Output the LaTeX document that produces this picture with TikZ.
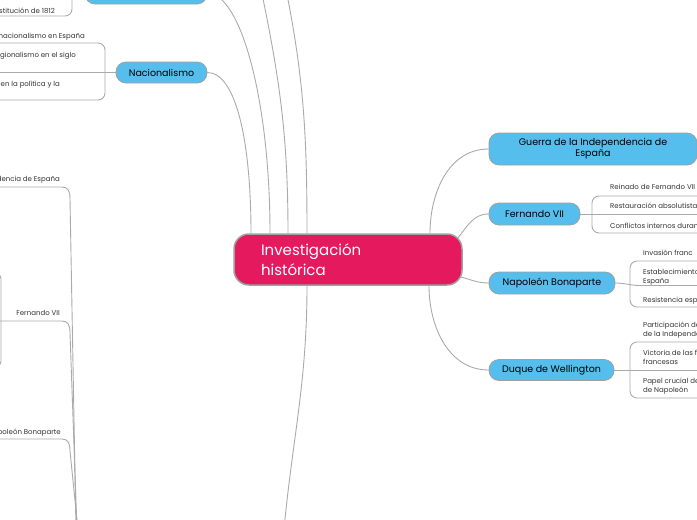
\documentclass[tikz,border=0pt]{standalone}
\usepackage{fontspec}
\setmainfont{Poppins}
\usetikzlibrary{backgrounds}
\definecolor{topicblue}{RGB}{86,190,236}
\definecolor{rootpink}{RGB}{229,25,94}
\definecolor{linkgray}{RGB}{170,170,170}
\definecolor{edgegray}{RGB}{160,160,160}
\definecolor{leaftext}{RGB}{50,50,50}

\begin{document}
\begin{tikzpicture}[x=1pt, y=-1pt,
    root/.style={draw=edgegray, line width=1.5pt, fill=rootpink, rounded corners=15pt, text=white, minimum width=228pt, minimum height=51pt, inner xsep=27pt, text width=174pt, align=left, font=\fontsize{15}{20}\selectfont},
    topic/.style={draw=edgegray, line width=0.8pt, fill=topicblue, rounded corners=10pt, minimum height=22pt, inner sep=0pt, align=center, font=\fontsize{9.5}{11}\selectfont},
    leaf/.style={inner sep=0pt, text=leaftext, align=left, font=\fontsize{7}{8.8}\selectfont},
    link/.style={draw=linkgray, line width=0.9pt}
]
\useasboundingbox (0,0) rectangle (697,520);

% main topic and branches
\node[root] (root) at (348,259.5) {Investigación\\histórica};
\node[topic, minimum width=122pt] (upper) at (146,-7) {};
\node[topic, minimum width=91pt, minimum height=21pt] (nacion) at (161.5,72.5) {Nacionalismo};
\node[topic, minimum width=208pt, minimum height=32pt] (guerra) at (593,149) {Guerra de la Independencia de\\España};
\node[topic, minimum width=91pt] (fernando) at (534.5,214) {Fernando VII};
\node[topic, minimum width=126pt] (napoleon) at (552,283) {Napoleón Bonaparte};
\node[topic, minimum width=125pt, minimum height=21pt] (duque) at (551.5,370) {Duque de Wellington};

% leaves, right side
\node[leaf, anchor=base west] (f1) at (610,189.5) {Reinado de Fernando VII};
\node[leaf, anchor=base west] (f2) at (610,208.5) {Restauración absolutista};
\node[leaf, anchor=base west] (f3) at (610,228.5) {Conflictos internos duran};
\node[leaf, anchor=base west] (n1) at (643,255.5) {Invasión franc};
\node[leaf, anchor=base west] (n2) at (643,283.5) {Establecimiento\\España};
\node[leaf, anchor=base west] (n3) at (643,302.5) {Resistencia esp};
\node[leaf, anchor=base west] (d1) at (643,336.5) {Participación de\\de la Independe};
\node[leaf, anchor=base west] (d2) at (643,364.5) {Victoria de las f\\francesas};
\node[leaf, anchor=base west] (d3) at (643,392.5) {Papel crucial de\\de Napoleón};

% leaves, left side
\node[leaf, anchor=base east] (u1) at (55,13.5) {stitución de 1812};
\node[leaf, anchor=base east] (a1) at (85,38.5) {l nacionalismo en España};
\node[leaf, anchor=base east] (a2) at (76,57.5) {egionalismo en el siglo};
\node[leaf, anchor=base east] (a3) at (60,86.5) {en la política y la};
\node[leaf, anchor=base east] (g1) at (60,181.5) {dencia de España};
\node[leaf, anchor=base east] (g2) at (60,315.5) {Fernando VII};
\node[leaf, anchor=base east] (g3) at (61,434.5) {poleón Bonaparte};

% free ends and junctions
\coordinate (rim) at (700,0);
\coordinate (lrim) at (-8,0);
\coordinate (upA) at (257,-30);
\coordinate (upB) at (282,-30);
\coordinate (downA) at (283,540);
\coordinate (fsp) at (592,214);
\coordinate (nsp) at (630,284);
\coordinate (npj) at (640,285.5);
\coordinate (dsp) at (630,370);
\coordinate (asp) at (105,72);
\coordinate (usp) at (72,-20);
\coordinate (low1) at (76,530);
\coordinate (low2) at (77,530);
\coordinate (low3) at (78,530);

\begin{scope}[on background layer]
% from the main topic
\draw[link] (nacion.east) .. controls +(28,0) and +(0,-94) .. ([xshift=-97pt]root.north);
\draw[link] (upper.east) .. controls +(33,0) and +(0,-134) .. ([xshift=-78pt]root.north);
\draw[link] (upA) to[out=-78, in=90] ([xshift=-60pt]root.north);
\draw[link] (upB) to[out=-78, in=90] ([xshift=-41pt]root.north);
\draw[link] ([xshift=-41pt]root.south) to[out=-90, in=85] (downA);
\draw[link] ([xshift=82pt]root.north) to[out=90, in=180] (guerra.west);
\draw[link] (457,239) to[out=50, in=180] (fernando.west);
\draw[link] (461,277) to[out=-15, in=180] (napoleon.west);
\draw[link] ([xshift=81pt]root.south) to[out=-90, in=180] (duque.west);

% brackets, right side
\draw[link] (fernando.east) -- (rim |- fernando.east);
\draw[link, rounded corners=7pt] (rim |- 0,196) -| (fsp) |- (rim |- 0,233);
\draw[link] (napoleon.east) to[out=0, in=180] (npj) -- (rim |- npj);
\draw[link, rounded corners=7pt] (rim |- 0,261) -| (nsp) |- (rim |- 0,307);
\draw[link] (duque.east) -- (rim |- duque.east);
\draw[link, rounded corners=7pt] (rim |- 0,342) -| (dsp) |- (rim |- 0,398);

% brackets, left side
\draw[link] (nacion.west) -- (lrim |- nacion.west);
\draw[link, rounded corners=7pt] (lrim |- 0,43) -| (asp) |- (lrim |- 0,100);
\draw[link, rounded corners=7pt] (lrim |- 0,16) -| (usp);
\draw[link] (lrim |- 0,187) -- ++(70,0) .. controls +(6,0) and +(0,-8) .. ++(8,12) -- (low1);
\draw[link] (lrim |- 0,321) -- ++(70,0) .. controls +(6,0) and +(0,-8) .. ++(8,12) -- (low2);
\draw[link] (lrim |- 0,439) -- ++(70,0) .. controls +(6,0) and +(0,-8) .. ++(8,12) -- (low3);
\draw[link, rounded corners=6pt] (lrim |- 0,273) -| (1,321) |- (lrim |- 0,367);
\end{scope}
\end{tikzpicture}
\end{document}
